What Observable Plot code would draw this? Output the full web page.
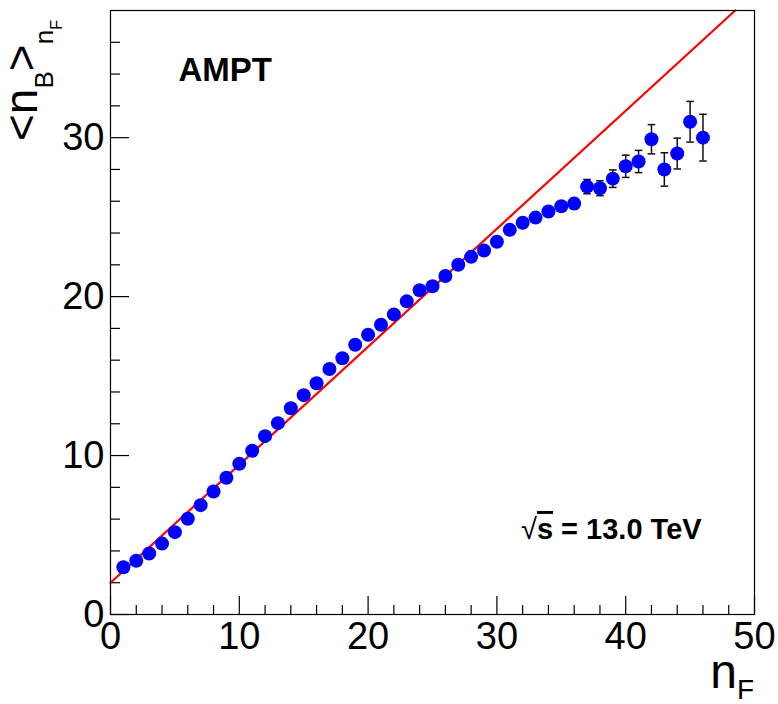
<!DOCTYPE html>
<html><head><meta charset="utf-8">
<script src="https://cdn.jsdelivr.net/npm/d3@7"></script>
<script src="https://cdn.jsdelivr.net/npm/@observablehq/plot@0.6"></script>
<style>html,body{margin:0;padding:0;background:#fff} svg{display:block}</style>
</head><body><div id="chart"></div>
<script>
// ---- data ----
const nF = [1,2,3,4,5,6,7,8,9,10,11,12,13,14,15,16,17,18,19,20,21,22,23,24,25,26,27,28,29,30,31,32,33,34,35,36,37,38,39,40,41,42,43,44,45,46];
const meanNB = [2.97,3.38,3.84,4.46,5.18,6.02,6.88,7.74,8.6,9.48,10.3,11.22,12.04,12.98,13.8,14.55,15.45,16.12,16.97,17.6,18.23,18.88,19.7,20.4,20.65,21.3,22.0,22.5,22.9,23.45,24.2,24.65,24.97,25.35,25.68,25.85,26.92,26.82,27.42,28.2,28.5,29.9,28.0,29.0,31.0,30.0];
const errNB = [0.02,0.02,0.02,0.03,0.03,0.03,0.04,0.04,0.04,0.05,0.05,0.05,0.06,0.06,0.07,0.07,0.08,0.08,0.09,0.1,0.1,0.11,0.12,0.13,0.14,0.15,0.16,0.17,0.18,0.2,0.21,0.23,0.25,0.27,0.3,0.33,0.45,0.47,0.55,0.7,0.7,0.92,1.05,0.97,1.28,1.47];
const fitX = [0, 48.5];
const fitY = [2.0, 38.0];
const xMajorTicks = [0,10,20,30,40,50];
const xMinorTicks = [2,4,6,8,12,14,16,18,22,24,26,28,32,34,36,38,42,44,46,48];
const yMajorTicks = [0,10,20,30];
const yMinorTicks = [2,4,6,8,12,14,16,18,22,24,26,28,32,34,36];
const modelLabel = "AMPT";
const energyLabel = "s = 13.0 TeV";

// ---- layout ----
const W = 778, H = 704, mL = 110, mR = 24, mT = 10, mB = 90;
const fw = W - mL - mR, fh = H - mT - mB;

const points = nF.map((x, i) => ({x, y: meanNB[i], lo: meanNB[i] - errNB[i], hi: meanNB[i] + errNB[i]}));
const fitLine = fitX.map((x, i) => ({x, y: fitY[i]}));

const capSymbol = {draw(ctx, size) { const r = Math.sqrt(size / Math.PI); ctx.moveTo(-r, 0); ctx.lineTo(r, 0); }};

const chart = Plot.plot({
  width: W, height: H,
  marginLeft: mL, marginRight: mR, marginTop: mT, marginBottom: mB,
  x: {domain: [0, 50], label: null},
  y: {domain: [0, 38], label: null},
  style: {fontFamily: "'Liberation Sans', Arial, Helvetica, sans-serif", background: "#fff", color: "#000"},
  marks: [
    Plot.tickX(xMajorTicks, {x: d => d, stroke: "#000", strokeWidth: 1.2, insetTop: fh - 18}),
    Plot.tickX(xMinorTicks, {x: d => d, stroke: "#000", strokeWidth: 1.2, insetTop: fh - 9}),
    Plot.tickY(yMajorTicks, {y: d => d, stroke: "#000", strokeWidth: 1.2, insetRight: fw - 19}),
    Plot.tickY(yMinorTicks, {y: d => d, stroke: "#000", strokeWidth: 1.2, insetRight: fw - 10}),
    Plot.axisX(xMajorTicks, {tickSize: 0, tickPadding: 8, fontSize: 38, tickFormat: d => String(d), label: null}),
    Plot.axisY(yMajorTicks, {tickSize: 0, tickPadding: 6, fontSize: 38, tickFormat: d => String(d), label: null}),
    Plot.line(fitLine, {x: "x", y: "y", stroke: "#ff0000", strokeWidth: 2.2}),
    Plot.ruleX(points, {x: "x", y1: "lo", y2: "hi", stroke: "#111", strokeWidth: 1.5}),
    Plot.dot(points, {x: "x", y: "lo", symbol: capSymbol, r: 3.8, stroke: "#111", strokeWidth: 1.5, fill: "none"}),
    Plot.dot(points, {x: "x", y: "hi", symbol: capSymbol, r: 3.8, stroke: "#111", strokeWidth: 1.5, fill: "none"}),
    Plot.dot(points, {x: "x", y: "y", r: 7, fill: "#0000ff", stroke: "none"}),
    Plot.text([modelLabel], {text: d => d, frameAnchor: "top-left", dx: 68, dy: 60, textAnchor: "start", lineAnchor: "middle", fontSize: 33, fontWeight: "bold", fill: "#000"}),
    Plot.frame({stroke: "#000", strokeWidth: 1.2})
  ]
});

const svg = d3.select(chart);
const ff = "'Liberation Sans', Arial, Helvetica, sans-serif";

// energy label
const en = svg.append("text").attr("x", 521).attr("y", 539).attr("text-anchor", "start").attr("font-family", ff).attr("font-size", 29).attr("fill", "#000");
en.append("tspan").attr("font-weight", "normal").text("√");
en.append("tspan").attr("font-weight", "bold").attr("text-decoration", "overline").text(energyLabel.slice(0, 1));
en.append("tspan").attr("font-weight", "bold").text(energyLabel.slice(1));

// x title n_F
const xt = svg.append("text").attr("x", 754).attr("y", 688).attr("text-anchor", "end").attr("font-family", ff).attr("font-size", 48).attr("fill", "#000");
xt.append("tspan").text("n");
xt.append("tspan").attr("font-size", 28).attr("dy", 11).text("F");

// y title <n_B>_{n_F}
const yt = svg.append("text").attr("transform", "translate(37,141) rotate(-90)").attr("text-anchor", "start").attr("font-family", ff).attr("font-size", 46).attr("fill", "#000");
yt.append("tspan").text("<n");
yt.append("tspan").attr("font-size", 26).attr("dy", 16).text("B");
yt.append("tspan").attr("dy", -16).text(">");
yt.append("tspan").attr("font-size", 26).attr("dy", 16).text("n");
yt.append("tspan").attr("font-size", 16).attr("dy", 9).text("F");

document.getElementById("chart").appendChild(chart);
</script>
</body></html>
